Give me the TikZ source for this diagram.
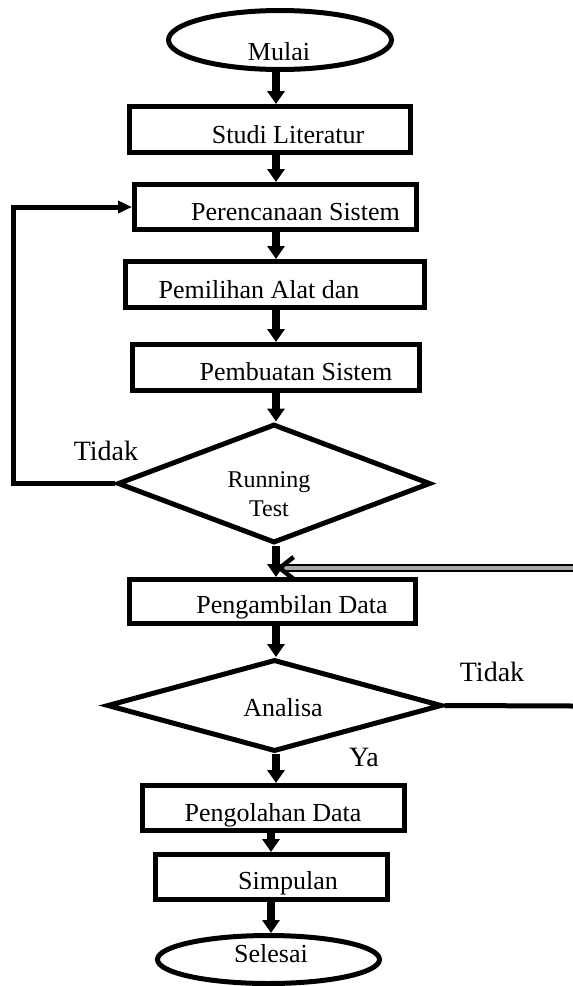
\documentclass[tikz,border=0pt]{standalone}
\usepackage{fontspec}
\setmainfont{Liberation Serif}
\usetikzlibrary{shapes.geometric,arrows.meta}

\tikzset{
  box/.style={draw, rectangle, line width=5pt, inner sep=0pt},
  oval/.style={draw, ellipse, line width=5pt, inner sep=0pt},
  decision/.style={draw, diamond, line width=5pt, inner sep=0pt},
  txt/.style={font=\fontsize{26}{30}\selectfont, inner sep=0pt, anchor=base},
  note/.style={font=\fontsize{28}{32}\selectfont, inner sep=0pt, anchor=base},
  flow/.style={line width=8pt, -{Triangle[width=17pt,length=13pt]}},
  back/.style={line width=5pt, -{Triangle[width=12pt,length=14pt]}},
  ret/.style={line width=2.2pt, double=gray!70, double distance=3.6pt,
    -{Straight Barb[length=14pt,width=22pt,line width=4.5pt]}},
}

\begin{document}
\begin{tikzpicture}[x=1pt, y=-1pt]
    \useasboundingbox (0,0) rectangle (573,986);
    \coordinate (axis) at (276,0);
    \coordinate (axisb) at (271,0);
    % shapes
    \node[oval, minimum width=223pt, minimum height=59pt] (mulai) at (280,40) {};
    \node[box, minimum width=281pt, minimum height=46pt] (studi) at (270,129.5) {};
    \node[box, minimum width=282pt, minimum height=45pt] (peren) at (275.5,207) {};
    \node[box, minimum width=299pt, minimum height=46pt] (pemil) at (275,284.5) {};
    \node[box, minimum width=287pt, minimum height=46pt] (pembu) at (276,367.5) {};
    \node[decision, minimum width=313pt, minimum height=119pt] (running) at (274,483.5) {};
    \node[box, minimum width=286pt, minimum height=44pt] (pengam) at (272.5,601.5) {};
    \node[decision, minimum width=335pt, minimum height=92pt] (analisa) at (274.5,705.5) {};
    \node[box, minimum width=262pt, minimum height=45pt] (pengol) at (273.5,808) {};
    \node[box, minimum width=232pt, minimum height=45pt] (simpul) at (271.5,877) {};
    \node[oval, minimum width=222pt, minimum height=48pt] (selesai) at (268.5,959.5) {};
    % texts
    \node[txt] (mulai-t) at (279,60) {Mulai};
    \node[txt] (studi-t) at (288,143) {Studi Literatur};
    \node[txt] (peren-t) at (295.5,220) {Perencanaan Sistem};
    \node[txt] (pemil-t) at (259,298) {Pemilihan Alat dan};
    \node[txt] (pembu-t) at (296,380) {Pembuatan Sistem};
    \node[font=\fontsize{24}{29}\selectfont, align=center, inner sep=0pt] (running-t) at (269,494) {Running\\Test};
    \node[txt] (pengam-t) at (292,613) {Pengambilan Data};
    \node[txt] (analisa-t) at (283,716) {Analisa};
    \node[txt] (pengol-t) at (273,821) {Pengolahan Data};
    \node[txt] (simpul-t) at (288,889) {Simpulan};
    \node[txt] (selesai-t) at (271,962) {Selesai};
    \node[note] (tidak-a) at (106,460) {Tidak};
    \node[note] (tidak-b) at (492,681) {Tidak};
    \node[note] (ya) at (364,766) {Ya};
    % connectors
    \draw[flow] (mulai.south -| axis) -- (studi.north -| axis);
    \draw[flow] (studi.south -| axis) -- (peren.north -| axis);
    \draw[flow] (peren.south -| axis) -- (pemil.north -| axis);
    \draw[flow] (pemil.south -| axis) -- (pembu.north -| axis);
    \draw[flow] (pembu.south -| axis) -- (running.north -| axis);
    \draw[flow] (running.south -| axis) -- (pengam.north -| axis);
    \draw[flow] (pengam.south -| axis) -- (analisa.north -| axis);
    \draw[flow] (analisa.south -| axis) -- (pengol.north -| axis);
    \draw[flow] (pengol.south -| axisb) -- (simpul.north -| axisb);
    \draw[flow] (simpul.south -| axisb) -- (selesai.north -| axisb);
    \coordinate (rail) at (13,0);
    \draw[back] (running.west) -- (running.west -| rail) |- (peren.west);
    \coordinate (tidakend) at (573,706);
    \draw[line width=5pt] (analisa.east) -- (tidakend);
    \coordinate (retstart) at (573,568);
    \draw[ret] (retstart) -- (retstart -| axis);
\end{tikzpicture}
\end{document}
